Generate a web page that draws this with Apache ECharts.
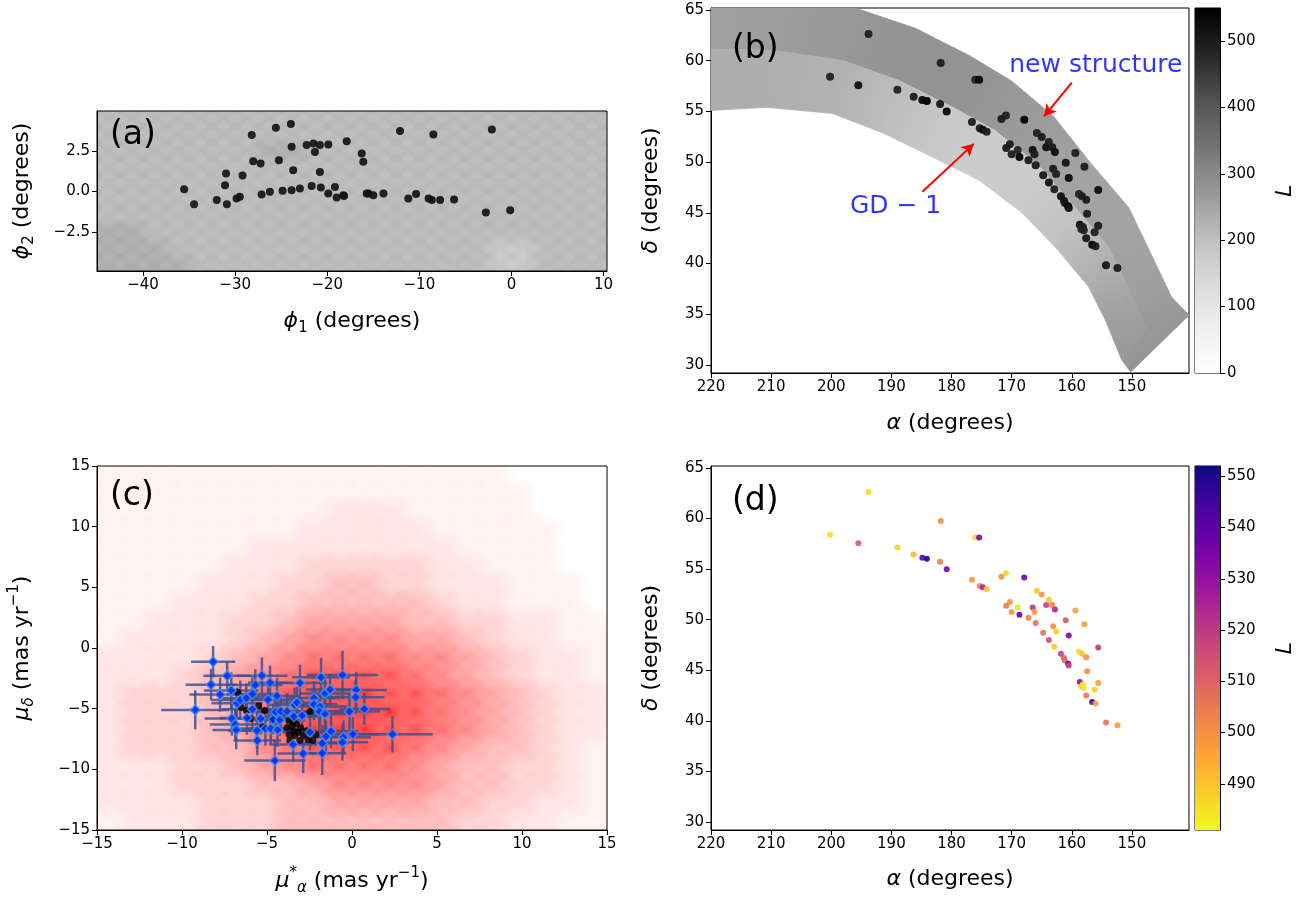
<!DOCTYPE html>
<html><head><meta charset="utf-8">
<script src="https://cdn.jsdelivr.net/npm/echarts@6/dist/echarts.min.js"></script>
<style>html,body{margin:0;padding:0;background:#fff}#c{width:1311px;height:898px}</style>
</head><body><div id="c"></div><script>
// ---------------- DATA ----------------
// Panel (a): stream stars in GD-1 frame [phi1, phi2]
const phiStars = [
[-35.54,0.14],[-34.46,-0.78],[-32.0,-0.53],[-30.9,-0.78],[-29.85,-0.43],[-29.5,-0.33],[-30.99,1.1],[-31.1,0.39],
[-29.2,0.98],[-28.2,3.46],[-28.04,1.86],[-27.24,1.72],[-25.58,3.91],[-23.95,4.14],[-25.25,1.92],[-23.87,2.74],
[-23.7,1.31],[-27.13,-0.18],[-26.23,-0.02],[-24.85,0.04],[-23.87,0.08],[-22.97,0.18],[-22.24,2.85],[-21.5,2.95],
[-20.8,2.85],[-21.34,2.43],[-19.89,2.89],[-20.8,1.2],[-21.7,0.33],[-20.7,0.25],[-19.89,-0.12],[-19.17,0.28],
[-18.98,-0.37],[-18.26,-0.23],[-17.89,3.09],[-16.26,2.33],[-16.09,1.82],[-15.72,-0.12],[-18.18,-0.27],[-15.54,-0.12],
[-15.0,-0.23],[-13.9,-0.12],[-12.1,3.71],[-8.48,3.5],[-11.2,-0.43],[-10.36,-0.15],[-9.0,-0.43],[-8.65,-0.53],
[-7.75,-0.53],[-6.23,-0.49],[-2.13,3.81],[-2.78,-1.29],[-0.14,-1.15]
];
// Panel (a) background density of field stars (0-9), rows phi2 6 -> -6 (step 1), cols phi1 -47.5 -> 12.5 (step 2.5)
const aBgRows = [
"5555555555555555555555555",
"5555555555555555555555555",
"5555555555555555555555555",
"5555555566555555555555555",
"5555555555555555555555555",
"5555555555555555555555555",
"5555555555555555555555555",
"5555555555555555555555555",
"6665555555555555555555555",
"6666555555555555554455555",
"6666655555555555554455555",
"6666655555555555555555555"
];
// Panel (b)/(d): stream stars [RA, Dec, L]
const streamStars = [
[193.8,62.63,486],[200.2,58.42,485],[195.5,57.57,512],[189.0,57.14,488],[186.3,56.45,492],[184.85,56.12,540],
[184.1,56.03,551],[181.8,59.77,500],[181.9,55.73,505],[180.8,55.0,535],[176.05,58.13,487],[175.4,58.13,535],
[176.6,53.95,498],[175.3,53.33,502],[174.8,53.2,525],[174.15,53.0,490],[171.7,54.25,500],[170.95,54.6,487],
[167.9,54.18,538],[170.9,51.39,505],[170.3,51.75,500],[170.0,50.77,498],[169.0,51.2,486],[168.7,50.5,538],
[167.2,50.18,503],[166.5,51.2,520],[166.2,50.77,498],[166.0,49.68,507],[165.8,52.87,490],[165.0,52.48,500],
[164.25,51.46,518],[163.8,51.98,490],[163.25,51.46,503],[162.8,51.0,525],[164.75,48.7,507],[163.8,48.0,515],
[163.1,49.35,500],[162.6,48.83,488],[162.9,47.32,489],[161.0,49.94,513],[160.5,48.43,533],[159.4,50.9,497],
[157.9,49.55,497],[161.8,46.63,518],[161.3,46.2,512],[161.15,45.97,507],[160.6,45.64,543],[160.5,45.47,517],
[158.8,46.85,486],[158.3,46.63,490],[157.6,46.29,500],[155.6,47.25,520],[157.45,44.91,500],[158.65,43.83,530],
[158.4,43.4,488],[158.0,43.27,486],[158.15,43.6,484],[155.6,43.73,497],[156.2,43.08,488],[157.6,42.5,505],
[156.6,41.85,545],[156.05,41.7,497],[154.3,39.82,507],[152.4,39.56,497]
];
// Panel (b) background band: upper / lower edge sections [RA, Dec] and effective L of upper / lower halves per section
const bandUpper = [[220,67.2],[208,66.6],[196,65.2],[186,63.2],[177,60.5],[170,58.0],[163,54.5],[157,50.0],[150.5,45.5],[146.1,40.05],[143.4,36.7],[140.5,34.9]];
const bandLower = [[220,55.1],[210.8,55.4],[199.8,54.8],[191.5,52.9],[183.2,50.5],[175.4,48.2],[168.3,45.0],[162.7,41.6],[157.2,37.7],[154.4,34.4],[151.7,30.5],[150.2,29.3]];
const bandUpperL = [255,262,272,280,280,272,262,252,252,258,268,275];
const bandLowerL = [232,232,225,205,180,168,172,195,228,252,268,278];
// Panel (c): background proper-motion density (0-9), rows mu_delta 16.5 -> -16.5, cols mu_alpha -16.5 -> 16.5, step 1.5
const cDensityRows = [
"1111111111111111100000",
"1111111111111111100000",
"1111111111111111110000",
"1111111111222111110000",
"1111111112222211111000",
"1111111222222221111000",
"1111112223333322111000",
"1111122233443322211100",
"1111222334444432211100",
"1112223345555443322110",
"1122223456666554322111",
"2222234567777665432211",
"2222345678888765432211",
"2233345789998876543221",
"2233345789999876543221",
"2233345789998876543221",
"2233344678888765443211",
"2222334567777654433211",
"2222333445666654433211",
"2222233344555544332211",
"1122233344444443322111",
"1122233344444443322111"
];
// Panel (c): members with errors [mu_a, mu_d, err_a, err_d]
const cMembers = [
[-8.17,-1.13,1.3,1.3],[-9.22,-5.1,2.0,1.6],[-8.29,-3.02,1.5,1.3],[-7.76,-3.84,1.8,1.4],[-7.34,-2.28,1.4,1.2],
[-7.1,-3.51,1.6,1.5],[-6.77,-4.56,1.5,1.3],[-6.57,-4.28,1.7,1.6],[-6.22,-4.12,1.4,1.2],[-5.86,-3.79,1.5,1.4],
[-5.69,-3.05,1.6,1.3],[-5.3,-2.28,1.5,1.5],[-4.82,-2.86,1.3,1.4],[-5.86,-5.05,1.8,1.5],[-7.07,-5.82,1.6,1.4],
[-6.87,-6.31,1.5,1.3],[-6.81,-6.75,1.4,1.6],[-6.18,-5.76,1.6,1.4],[-5.37,-5.82,1.5,1.3],[-5.59,-6.81,1.7,1.5],
[-5.57,-7.63,1.4,1.2],[-5.09,-6.64,1.5,1.4],[-4.78,-6.64,1.3,1.3],[-4.38,-6.75,1.6,1.4],[-4.64,-5.9,1.4,1.2],
[-4.94,-4.26,1.5,1.4],[-4.41,-3.95,1.3,1.5],[-4.49,-5.27,1.6,1.3],[-4.19,-5.22,1.4,1.4],[-4.25,-5.93,1.5,1.3],
[-3.82,-5.22,1.6,1.5],[-3.38,-4.67,1.5,1.4],[-3.24,-4.5,1.4,1.3],[-3.42,-5.65,1.5,1.4],[-3.06,-2.88,1.6,1.5],
[-2.93,-5.57,1.5,1.3],[-3.46,-7.96,1.4,1.4],[-2.87,-8.7,1.5,1.6],[-4.54,-9.28,1.8,1.7],[-2.47,-6.94,1.6,1.5],
[-2.24,-4.12,1.5,1.4],[-2.24,-4.64,1.4,1.3],[-1.88,-4.83,1.6,1.5],[-1.82,-2.42,1.7,1.6],[-1.59,-3.74,1.5,1.4],
[-1.29,-3.43,1.4,1.3],[-1.92,-5.24,1.5,1.5],[-1.59,-5.43,1.6,1.4],[-1.75,-7.85,1.5,1.5],[-1.75,-8.67,1.4,1.8],
[-1.23,-6.86,1.6,1.4],[-1.53,-7.3,1.5,1.3],[-0.56,-2.22,2.1,2.0],[-0.15,-5.24,1.8,1.5],[-0.5,-7.36,1.6,1.4],
[-0.56,-7.77,1.5,1.5],[0.25,-3.46,1.8,1.5],[0.21,-4.06,1.7,1.4],[0.72,-5.02,1.5,1.3],[0.05,-7.11,1.6,1.4],
[2.38,-7.11,2.37,1.5]
];
// Panel (c): black points [mu_a, mu_d]
const cBlack = [
[-6.72,-3.65],[-6.51,-4.89],[-5.49,-4.75],[-5.14,-5.16],[-4.68,-5.93],[-4.05,-5.3],[-3.7,-5.98],[-3.56,-6.48],
[-3.42,-6.81],[-3.26,-6.26],[-3.17,-6.95],[-3.02,-6.58],[-2.87,-7.22],[-2.67,-6.81],[-2.57,-7.57],[-2.47,-5.24],
[-2.12,-7.16],[-3.7,-7.16],[-3.83,-6.58],[-3.36,-7.22],[-3.46,-6.12],[-5.24,-6.48],[-5.98,-5.84],[-3.07,-7.63],
[-3.66,-7.63],[-2.3,-7.63],[-6.22,-5.16]
];
// Tick values
const aXTicks = [-40,-30,-20,-10,0,10];
const aYTicks = [-2.5,0,2.5];
const raTicks = [220,210,200,190,180,170,160,150];
const decTicks = [30,35,40,45,50,55,60,65];
const pmTicks = [-15,-10,-5,0,5,10,15];
const cbBTicks = [0,100,200,300,400,500];
const cbDTicks = [490,500,510,520,530,540,550];
// Annotations (b)
const annText = ['new structure','GD − 1'];
const annPos = [[156.0,59.5],[189.3,45.6]];
const arrowFrom = [[160.0,57.85],[184.85,47.08]];
const arrowTo = [[164.6,54.5],[176.3,51.8]];

// ---------------- STYLE / HELPERS ----------------
const FONT = 'DejaVu Sans';
const greysStops = ['#ffffff','#f0f0f0','#d9d9d9','#bdbdbd','#969696','#737373','#525252','#252525','#000000'];
const plasmaStops = ['#0d0887','#41049d','#6a00a8','#8f0da4','#b12a90','#cc4778','#e16462','#f2844b','#fca636','#fcce25','#f0f921'];
const plasmaR = plasmaStops.slice().reverse();
const redAlpha = [0,0.05,0.1,0.17,0.26,0.36,0.47,0.58,0.7,0.82];
const greyAlpha = [0,0.055,0.11,0.165,0.22,0.275,0.33,0.385,0.44,0.5];
const LMAX_B = 549.6, LMIN_D = 481, LMAX_D = 552;

function hexToRgb(h){return [parseInt(h.slice(1,3),16),parseInt(h.slice(3,5),16),parseInt(h.slice(5,7),16)];}
function cmap(stops,t){t=Math.max(0,Math.min(1,t));const n=stops.length-1;const f=t*n;const i=Math.min(n-1,Math.floor(f));const u=f-i;const a=hexToRgb(stops[i]),b=hexToRgb(stops[i+1]);return 'rgb('+a.map((v,k)=>Math.round(v+(b[k]-v)*u)).join(',')+')';}
const minus = s => String(s).replace('-', '\u2212');

function axis(gi, min, max, ticks, extra){
  return Object.assign({
    type:'value', gridIndex:gi, min:min, max:max,
    splitLine:{show:false},
    axisLine:{show:true,onZero:false,lineStyle:{color:'#000',width:1}},
    axisTick:{show:true,inside:false,length:5,lineStyle:{color:'#000',width:1},customValues:ticks},
    axisLabel:{show:true,color:'#000',fontSize:15,fontFamily:FONT,margin:7,customValues:ticks,formatter:v=>minus(v)}
  }, extra||{});
}
const R = {
  t:{fontSize:22,fontFamily:FONT,color:'#000',lineHeight:30},
  i:{fontSize:22,fontFamily:FONT,fontStyle:'italic',color:'#000',lineHeight:30},
  sub:{fontSize:15,fontFamily:FONT,color:'#000',lineHeight:20,verticalAlign:'bottom'},
  subi:{fontSize:15,fontFamily:FONT,fontStyle:'italic',color:'#000',lineHeight:20,verticalAlign:'bottom'},
  sup:{fontSize:15,fontFamily:FONT,color:'#000',lineHeight:20,verticalAlign:'top'}
};
const nameStyle = {fontSize:22,fontFamily:FONT,color:'#000',rich:R};

// derived series data (grid cell index + value)
const aBgData = [];
aBgRows.forEach((row,r)=>{for(let c=0;c<row.length;c++) aBgData.push([c,r,+row[c]]);});
const cDensData = [];
cDensityRows.forEach((row,r)=>{for(let c=0;c<row.length;c++){const d=+row[c]; if(d>0) cDensData.push([c,r,d]);}});
const bandData = bandUpperL.slice(0,-1).map((v,i)=>[i]);

// soft cell: elliptical radial fade reaching the neighbouring cell centres -> smooth field
function softCellRenderer(x0,dx,y0,dy,rgb,alphaOf){
  return function(params, api){
    const c=api.value(0), r=api.value(1), v=api.value(2);
    const pc=api.coord([x0+(c+0.5)*dx, y0-(r+0.5)*dy]);
    const p0=api.coord([x0+(c-0.5)*dx, y0-(r-0.5)*dy]); const p1=api.coord([x0+(c+1.5)*dx, y0-(r+1.5)*dy]);
    const hw=Math.abs(p1[0]-p0[0])/2, hh=Math.abs(p1[1]-p0[1])/2;
    const a=alphaOf(v);
    return {type:'rect', x:pc[0], y:pc[1], scaleX:hw/hh, scaleY:1,
      shape:{x:-hh,y:-hh,width:2*hh,height:2*hh},
      style:{fill:{type:'radial',x:0.5,y:0.5,r:0.5,colorStops:[{offset:0,color:'rgba('+rgb+','+a+')'},{offset:1,color:'rgba('+rgb+',0)'}]}}};
  };
}

const chart = echarts.init(document.getElementById('c'), null, {renderer:'canvas', width:1311, height:898});
const gridBase = {show:true, borderColor:'#000', borderWidth:1, backgroundColor:'rgba(0,0,0,0)', containLabel:false};
const panelLabel = {fontSize:33,fontWeight:'normal',fontFamily:FONT,color:'#000'};

const option = {
  animation:false,
  backgroundColor:'#fff',
  title:[
    {text:'(a)', left:105, top:114, textStyle:panelLabel},
    {text:'(b)', left:727, top:28, textStyle:panelLabel},
    {text:'(c)', left:105, top:475, textStyle:panelLabel},
    {text:'(d)', left:727, top:480, textStyle:panelLabel}
  ],
  grid:[
    Object.assign({left:97, top:111, width:510, height:160}, gridBase),
    Object.assign({left:711, top:8, width:478, height:365}, gridBase),
    Object.assign({left:97, top:466, width:510, height:364}, gridBase),
    Object.assign({left:711, top:466, width:478, height:364}, gridBase),
    Object.assign({left:1195, top:8, width:25, height:365}, gridBase),
    Object.assign({left:1195, top:466, width:25, height:364}, gridBase)
  ],
  xAxis:[
    axis(0,-45,10.37,aXTicks,{name:'{i|ϕ}{sub|1}{t| (degrees)}',nameLocation:'middle',nameGap:35,nameTextStyle:nameStyle}),
    axis(1,140.5,220,raTicks,{inverse:true,name:'{i|α}{t| (degrees)}',nameLocation:'middle',nameGap:35,nameTextStyle:nameStyle}),
    axis(2,-15,15,pmTicks,{name:'{i|μ}{sup|*}{subi|α}{t| (mas yr}{sup|−1}{t|)}',nameLocation:'middle',nameGap:36,nameTextStyle:nameStyle}),
    axis(3,140.5,220,raTicks,{inverse:true,name:'{i|α}{t| (degrees)}',nameLocation:'middle',nameGap:34,nameTextStyle:nameStyle}),
    {type:'value',gridIndex:4,min:0,max:1,show:false},
    {type:'value',gridIndex:5,min:0,max:1,show:false}
  ],
  yAxis:[
    axis(0,-4.88,4.94,aYTicks,{name:'{i|ϕ}{sub|2}{t| (degrees)}',nameLocation:'middle',nameGap:60,nameTextStyle:nameStyle,
      axisLabel:{show:true,color:'#000',fontSize:15,fontFamily:FONT,margin:7,customValues:aYTicks,formatter:v=>minus(v.toFixed(1))}}),
    axis(1,29.2,65.2,decTicks,{name:'{i|δ}{t| (degrees)}',nameLocation:'middle',nameGap:45,nameTextStyle:nameStyle}),
    axis(2,-15,15,pmTicks,{name:'{i|μ}{subi|δ}{t| (mas yr}{sup|−1}{t|)}',nameLocation:'middle',nameGap:60,nameTextStyle:nameStyle}),
    axis(3,29.2,65.2,decTicks,{name:'{i|δ}{t| (degrees)}',nameLocation:'middle',nameGap:45,nameTextStyle:nameStyle}),
    axis(4,0,LMAX_B,cbBTicks,{position:'right',name:'{i|L}',nameLocation:'middle',nameRotate:90,nameGap:50,nameTextStyle:nameStyle}),
    axis(5,LMIN_D,LMAX_D,cbDTicks,{position:'right',name:'{i|L}',nameLocation:'middle',nameRotate:90,nameGap:50,nameTextStyle:nameStyle})
  ],
  visualMap:[
    {type:'continuous',show:false,seriesIndex:3,dimension:2,min:0,max:LMAX_B,inRange:{color:greysStops}},
    {type:'continuous',show:false,seriesIndex:8,dimension:2,min:LMIN_D,max:LMAX_D,inRange:{color:plasmaR}}
  ],
  series:[
    // 0: (a) background field stars
    {type:'custom',xAxisIndex:0,yAxisIndex:0,clip:true,silent:true,data:aBgData,
     renderItem:softCellRenderer(-47.5,2.5,6,1,'0,0,0',d=>greyAlpha[d])},
    // 1: (a) stream stars
    {type:'scatter',xAxisIndex:0,yAxisIndex:0,symbolSize:8,data:phiStars,itemStyle:{color:'#141414',opacity:0.92},silent:true},
    // 2: (b) band of field stars
    {type:'custom',xAxisIndex:1,yAxisIndex:1,clip:true,silent:true,data:bandData,
     renderItem:function(params,api){
       const i=api.value(0);
       const U0=bandUpper[i],U1=bandUpper[i+1],L0=bandLower[i],L1=bandLower[i+1];
       const M0=[(U0[0]+L0[0])/2,(U0[1]+L0[1])/2], M1=[(U1[0]+L1[0])/2,(U1[1]+L1[1])/2];
       const pu0=api.coord(U0),pu1=api.coord(U1),pl0=api.coord(L0),pl1=api.coord(L1),pm0=api.coord(M0),pm1=api.coord(M1);
       const mid=(a,b)=>[(a[0]+b[0])/2,(a[1]+b[1])/2];
       function grad(A,B,l0,l1){return {type:'linear',global:true,x:A[0],y:A[1],x2:B[0],y2:B[1],
         colorStops:[{offset:0,color:cmap(greysStops,l0/LMAX_B)},{offset:1,color:cmap(greysStops,l1/LMAX_B)}]};}
       const gu=grad(mid(pu0,pm0),mid(pu1,pm1),bandUpperL[i],bandUpperL[i+1]);
       const gl=grad(mid(pl0,pm0),mid(pl1,pm1),bandLowerL[i],bandLowerL[i+1]);
       return {type:'group',children:[
         {type:'polygon',shape:{points:[pu0,pu1,pm1,pm0]},style:{fill:gu,stroke:gu,lineWidth:0.8}},
         {type:'polygon',shape:{points:[pm0,pm1,pl1,pl0]},style:{fill:gl,stroke:gl,lineWidth:0.8}}
       ]};
     }},
    // 3: (b) stream stars
    {type:'scatter',xAxisIndex:1,yAxisIndex:1,symbolSize:8,data:streamStars,silent:true,itemStyle:{opacity:0.95},
     markLine:{silent:true,symbol:['none','arrow'],symbolSize:[10,12],label:{show:false},
       lineStyle:{color:'#ff0000',width:2,type:'solid'},
       data:arrowFrom.map((f,k)=>[{coord:f},{coord:arrowTo[k]}])}},
    // 4: (c) density of field stars
    {type:'custom',xAxisIndex:2,yAxisIndex:2,clip:true,silent:true,data:cDensData,
     renderItem:softCellRenderer(-16.5,1.5,16.5,1.5,'255,0,0',d=>redAlpha[d])},
    // 5: (c) error bars
    {type:'custom',xAxisIndex:2,yAxisIndex:2,clip:true,silent:true,data:cMembers,
     renderItem:function(params,api){
       const x=api.value(0),y=api.value(1),xe=api.value(2),ye=api.value(3);
       const a=api.coord([x-xe,y]),b=api.coord([x+xe,y]),c=api.coord([x,y+ye]),d=api.coord([x,y-ye]);
       const st={stroke:'rgba(62,78,140,0.82)',lineWidth:2.5};
       return {type:'group',children:[
         {type:'line',shape:{x1:a[0],y1:a[1],x2:b[0],y2:b[1]},style:st},
         {type:'line',shape:{x1:c[0],y1:c[1],x2:d[0],y2:d[1]},style:st}]};
     }},
    // 6: (c) black points
    {type:'scatter',xAxisIndex:2,yAxisIndex:2,symbolSize:7,data:cBlack,itemStyle:{color:'#000'},silent:true},
    // 7: (c) blue diamonds
    {type:'scatter',xAxisIndex:2,yAxisIndex:2,symbol:'diamond',symbolSize:10,data:cMembers.map(m=>[m[0],m[1]]),silent:true,
     itemStyle:{color:'#0a2cff',borderColor:'#3a9ae8',borderWidth:1.5}},
    // 8: (d) stream stars coloured by L
    {type:'scatter',xAxisIndex:3,yAxisIndex:3,symbolSize:6,data:streamStars,silent:true,itemStyle:{opacity:0.9}},
    // 9: colorbar (b)
    {type:'custom',xAxisIndex:4,yAxisIndex:4,silent:true,data:[[0,0]],
     renderItem:function(params,api){
       const p0=api.coord([0,LMAX_B]),p1=api.coord([1,0]);
       return {type:'rect',shape:{x:p0[0],y:p0[1],width:p1[0]-p0[0],height:p1[1]-p0[1]},
         style:{fill:{type:'linear',x:0,y:0,x2:0,y2:1,colorStops:greysStops.slice().reverse().map((c,k,arr)=>({offset:k/(arr.length-1),color:c}))}}};
     }},
    // 10: colorbar (d)
    {type:'custom',xAxisIndex:5,yAxisIndex:5,silent:true,data:[[0,LMIN_D]],
     renderItem:function(params,api){
       const p0=api.coord([0,LMAX_D]),p1=api.coord([1,LMIN_D]);
       return {type:'rect',shape:{x:p0[0],y:p0[1],width:p1[0]-p0[0],height:p1[1]-p0[1]},
         style:{fill:{type:'linear',x:0,y:0,x2:0,y2:1,colorStops:plasmaStops.map((c,k,arr)=>({offset:k/(arr.length-1),color:c}))}}};
     }},
    // 11: annotations (b)
    {type:'scatter',xAxisIndex:1,yAxisIndex:1,symbolSize:0,silent:true,
     data:annPos.map((p,k)=>({value:p,label:{show:true,position:'inside',formatter:annText[k],color:'#0000ff',fontSize:25,fontFamily:FONT}}))}
  ]
};
chart.setOption(option);
</script></body></html>
